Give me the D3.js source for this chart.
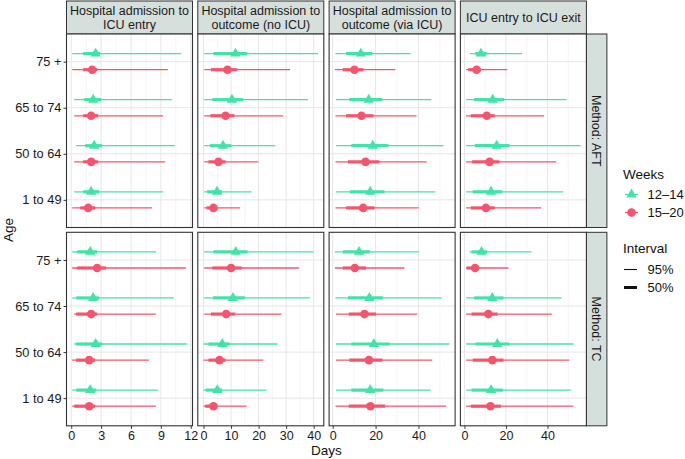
<!DOCTYPE html>
<html><head><meta charset="utf-8">
<script src="https://cdn.jsdelivr.net/npm/d3@7"></script>
<style>body{margin:0;background:#fff}svg{display:block;font-family:"Liberation Sans",Arial,sans-serif}</style>
</head><body><svg id="c" width="685" height="459"></svg>
<script>
const ages = ["1 to 49", "50 to 64", "65 to 74", "75 +"];
const weeks = ["12–14", "15–20"];
const outcomes = [["Hospital admission to", "ICU entry"], ["Hospital admission to", "outcome (no ICU)"], ["Hospital admission to", "outcome (via ICU)"], ["ICU entry to ICU exit"]];
const methods = ["Method: AFT", "Method: TC"];
const intervals = ["95%", "50%"];
const xTicks = [[0, 3, 6, 9, 12], [0, 10, 20, 30, 40], [0, 20, 40], [0, 20, 40]];
const xMinor = [[1.5, 4.5, 7.5, 10.5], [5, 15, 25, 35], [10, 30, 50], [10, 30, 50]];
// each row: [lo95, lo50, median, hi50, hi95], rows ordered 1 to 49, 50 to 64, 65 to 74, 75 +
const AFT_entry_w12 = [[0.3, 1.2, 2.0, 2.8, 9.2], [0.5, 1.4, 2.3, 3.1, 10.4], [0.3, 1.3, 2.2, 3.0, 10.1], [0.1, 1.2, 2.45, 2.9, 11.0]];
const AFT_entry_w15 = [[0.1, 0.9, 1.7, 2.4, 8.1], [0.3, 1.2, 2.0, 2.7, 9.4], [0.3, 1.2, 2.0, 2.7, 9.2], [0.1, 1.2, 2.1, 2.6, 9.7]];
const AFT_noicu_w12 = [[0.25, 1.3, 4.9, 6.7, 17.4], [0.25, 2.3, 7.05, 10.1, 26.1], [0.25, 3.2, 10.3, 14.3, 37.9], [0.25, 3.6, 11.6, 15.8, 41.6]];
const AFT_noicu_w15 = [[0.25, 1.1, 3.6, 5.0, 13.3], [0.25, 1.8, 5.4, 8.0, 19.9], [0.25, 2.5, 8.0, 11.2, 28.9], [0.25, 2.7, 8.7, 12.1, 31.4]];
const AFT_viaicu_w12 = [[1.5, 8.1, 17.5, 24.1, 47.8], [1.6, 8.7, 18.7, 26.0, 51.6], [1.5, 7.8, 16.8, 23.1, 46.0], [1.3, 6.2, 13.1, 18.4, 36.3]];
const AFT_viaicu_w15 = [[1.3, 6.2, 14.2, 19.5, 40.1], [1.3, 7.1, 15.3, 21.7, 43.8], [1.3, 6.2, 13.4, 19.0, 39.1], [1.0, 4.7, 10.1, 14.3, 29.1]];
const AFT_icu_w12 = [[0.8, 4.0, 12.8, 18.2, 47.5], [0.8, 5.0, 15.5, 21.7, 56.0], [0.8, 4.7, 13.6, 19.1, 49.2], [2.7, 5.3, 7.9, 10.7, 27.8]];
const AFT_icu_w15 = [[0.8, 3.1, 10.3, 14.6, 36.9], [0.8, 3.7, 12.1, 16.8, 44.2], [0.8, 3.1, 10.7, 14.6, 38.4], [0.8, 1.8, 5.8, 7.9, 20.5]];
const TC_entry_w12 = [[0.1, 0.5, 1.9, 2.5, 8.7], [0.3, 0.5, 2.45, 3.1, 11.6], [0.1, 0.5, 2.2, 2.8, 10.3], [0.1, 0.6, 1.9, 2.6, 8.5]];
const TC_entry_w15 = [[0.1, 0.3, 1.8, 2.4, 8.5], [0.1, 0.5, 1.8, 2.4, 7.8], [0.3, 0.5, 2.0, 2.6, 8.5], [0.1, 0.6, 2.6, 3.5, 11.5]];
const TC_noicu_w12 = [[0, 0.8, 5.0, 6.7, 22.9], [0, 1.8, 6.8, 9.5, 26.8], [0.25, 3.4, 10.7, 15.0, 38.6], [0.25, 3.6, 11.7, 16.0, 40.0]];
const TC_noicu_w15 = [[0, 0.6, 3.6, 4.9, 15.6], [0, 1.8, 5.8, 8.0, 21.7], [0.25, 2.7, 8.2, 11.4, 28.3], [0.25, 3.2, 10.0, 13.8, 34.6]];
const TC_viaicu_w12 = [[1.6, 8.7, 17.5, 23.6, 45.6], [1.5, 8.7, 19.2, 26.6, 54.4], [1.3, 7.1, 17.1, 23.4, 50.8], [1.0, 4.7, 12.3, 17.5, 40.1]];
const TC_viaicu_w15 = [[1.3, 7.5, 17.6, 24.4, 52.9], [1.5, 7.8, 16.9, 23.2, 46.4], [1.5, 7.5, 14.8, 20.2, 39.4], [1.0, 4.7, 10.3, 15.6, 33.4]];
const TC_icu_w12 = [[0.8, 3.4, 12.8, 18.5, 51.2], [0.8, 5.3, 15.8, 21.7, 52.6], [0.8, 4.7, 13.4, 18.8, 46.7], [2.4, 3.4, 8.2, 10.9, 32.3]];
const TC_icu_w15 = [[0.8, 3.1, 12.5, 17.5, 52.4], [0.8, 4.0, 13.4, 18.8, 50.5], [0.8, 3.4, 11.5, 16.0, 42.1], [0.8, 1.0, 5.1, 6.6, 21.2]];

const panelData = [
  [[AFT_entry_w12, AFT_entry_w15], [AFT_noicu_w12, AFT_noicu_w15], [AFT_viaicu_w12, AFT_viaicu_w15], [AFT_icu_w12, AFT_icu_w15]],
  [[TC_entry_w12, TC_entry_w15], [TC_noicu_w12, TC_noicu_w15], [TC_viaicu_w12, TC_viaicu_w15], [TC_icu_w12, TC_icu_w15]]
];
const colors = ["#42e3a6", "#f5546c"];
const dodge = [0.175, -0.175];

const svg = d3.select("#c");
const colX = [66.5, 197.8, 329.1, 460.4], pw = 126;
const rowY = [34, 232.3], ph = 193.5;
const stripTop = 1, stripW = 20.5;
const FONT = "Liberation Sans, Arial, sans-serif";

const xScales = outcomes.map((o, c) => {
  let lo = Infinity, hi = -Infinity;
  panelData.forEach(r => r[c].forEach(s => s.forEach(v => { lo = Math.min(lo, v[0]); hi = Math.max(hi, v[4]); })));
  const pad = (hi - lo) * 0.05;
  return d3.scaleLinear().domain([lo - pad, hi + pad]).range([colX[c], colX[c] + pw]);
});

outcomes.forEach((lines, c) => {
  svg.append("rect").attr("x", colX[c]).attr("y", stripTop).attr("width", pw).attr("height", rowY[0] - stripTop)
    .attr("fill", "#d5dfdb").attr("stroke", "#333").attr("stroke-width", 1);
  const t = svg.append("text").attr("text-anchor", "middle").attr("font-size", 12.5).attr("fill", "#1a1a1a");
  const cx = colX[c] + pw / 2;
  if (lines.length === 2) {
    t.append("tspan").attr("x", cx).attr("y", 14.5).text(lines[0]);
    t.append("tspan").attr("x", cx).attr("y", 28.5).text(lines[1]);
  } else {
    t.attr("x", cx).attr("y", 22).text(lines[0]);
  }
});

methods.forEach((m, r) => {
  const y = d3.scaleLinear().domain([0.4, ages.length + 0.6]).range([rowY[r] + ph, rowY[r]]);
  const sx = colX[3] + pw;
  svg.append("rect").attr("x", sx).attr("y", rowY[r]).attr("width", stripW).attr("height", ph)
    .attr("fill", "#d5dfdb").attr("stroke", "#333").attr("stroke-width", 1);
  svg.append("text").attr("transform", `translate(${sx + stripW / 2 - 4.5},${rowY[r] + ph / 2}) rotate(90)`)
    .attr("text-anchor", "middle").attr("font-size", 12.5).attr("fill", "#1a1a1a").text(m);

  outcomes.forEach((o, c) => {
    const x = xScales[c];
    const g = svg.append("g");
    g.append("rect").attr("x", colX[c]).attr("y", rowY[r]).attr("width", pw).attr("height", ph).attr("fill", "#fff");
    const [x0, x1] = x.range();
    g.selectAll(".mn").data(xMinor[c].filter(v => x(v) > x0 && x(v) < x1)).join("line")
      .attr("x1", d => x(d)).attr("x2", d => x(d)).attr("y1", rowY[r]).attr("y2", rowY[r] + ph)
      .attr("stroke", "#f3f3f3").attr("stroke-width", 0.8);
    g.selectAll(".mj").data(xTicks[c]).join("line")
      .attr("x1", d => x(d)).attr("x2", d => x(d)).attr("y1", rowY[r]).attr("y2", rowY[r] + ph)
      .attr("stroke", "#e6e6e6").attr("stroke-width", 1);
    g.selectAll(".hy").data(ages).join("line")
      .attr("x1", x0).attr("x2", x1).attr("y1", (d, i) => y(i + 1)).attr("y2", (d, i) => y(i + 1))
      .attr("stroke", "#e6e6e6").attr("stroke-width", 1);

    panelData[r][c].forEach((series, s) => {
      series.forEach((v, i) => {
        const yy = y(i + 1 + dodge[s]);
        g.append("line").attr("x1", x(v[0])).attr("x2", x(v[4])).attr("y1", yy).attr("y2", yy)
          .attr("stroke", colors[s]).attr("stroke-width", 1.3);
        g.append("line").attr("x1", x(v[1])).attr("x2", x(v[3])).attr("y1", yy).attr("y2", yy)
          .attr("stroke", colors[s]).attr("stroke-width", 3.2);
        if (s === 0) {
          g.append("path").attr("d", d3.symbol(d3.symbolTriangle, 46)()).attr("transform", `translate(${x(v[2])},${yy})`)
            .attr("fill", colors[s]);
        } else {
          g.append("circle").attr("cx", x(v[2])).attr("cy", yy).attr("r", 4.3).attr("fill", colors[s]);
        }
      });
    });
    g.append("rect").attr("x", colX[c]).attr("y", rowY[r]).attr("width", pw).attr("height", ph)
      .attr("fill", "none").attr("stroke", "#333").attr("stroke-width", 1.1);

    if (c === 0) {
      const ax = svg.append("g").attr("transform", `translate(${colX[0]},0)`)
        .call(d3.axisLeft(y).tickValues([1, 2, 3, 4]).tickFormat(d => ages[d - 1]).tickSize(3).tickPadding(2));
      ax.select(".domain").remove();
      ax.selectAll("line").attr("stroke", "#333");
      ax.selectAll("text").attr("font-size", 12.8).attr("fill", "#1a1a1a").attr("font-family", FONT);
    }
    if (r === 1) {
      const ax = svg.append("g").attr("transform", `translate(0,${rowY[1] + ph})`)
        .call(d3.axisBottom(x).tickValues(xTicks[c]).tickFormat(d3.format("d")).tickSize(3).tickPadding(2));
      ax.select(".domain").remove();
      ax.selectAll("line").attr("stroke", "#333");
      ax.selectAll("text").attr("font-size", 12.5).attr("fill", "#1a1a1a").attr("font-family", FONT);
    }
  });
});

svg.append("text").attr("x", (colX[0] + colX[3] + pw) / 2).attr("y", 455).attr("text-anchor", "middle")
  .attr("font-size", 13.5).attr("fill", "#111").text("Days");
svg.append("text").attr("transform", `translate(13,${(rowY[0] + rowY[1] + ph) / 2}) rotate(-90)`).attr("text-anchor", "middle")
  .attr("font-size", 13.5).attr("fill", "#111").text("Age");

const lg = svg.append("g");
lg.append("text").attr("x", 623).attr("y", 179).attr("font-size", 13.5).attr("fill", "#111").text("Weeks");
weeks.forEach((w, i) => {
  const yy = 194.5 + i * 18;
  lg.append("line").attr("x1", 625).attr("x2", 638).attr("y1", yy).attr("y2", yy).attr("stroke", colors[i]).attr("stroke-width", 1.3);
  if (i === 0) lg.append("path").attr("d", d3.symbol(d3.symbolTriangle, 46)()).attr("transform", `translate(631.5,${yy})`).attr("fill", colors[i]);
  else lg.append("circle").attr("cx", 631.5).attr("cy", yy).attr("r", 4.3).attr("fill", colors[i]);
  lg.append("text").attr("x", 647.5).attr("y", yy + 4.5).attr("font-size", 13).attr("fill", "#111").text(w);
});
lg.append("text").attr("x", 623).attr("y", 253).attr("font-size", 13.5).attr("fill", "#111").text("Interval");
intervals.forEach((t, i) => {
  const yy = 269.5 + i * 18;
  lg.append("line").attr("x1", 624).attr("x2", 637).attr("y1", yy).attr("y2", yy).attr("stroke", "#111").attr("stroke-width", i === 0 ? 1.1 : 3);
  lg.append("text").attr("x", 647.5).attr("y", yy + 4.5).attr("font-size", 13).attr("fill", "#111").text(t);
});
</script></body></html>
